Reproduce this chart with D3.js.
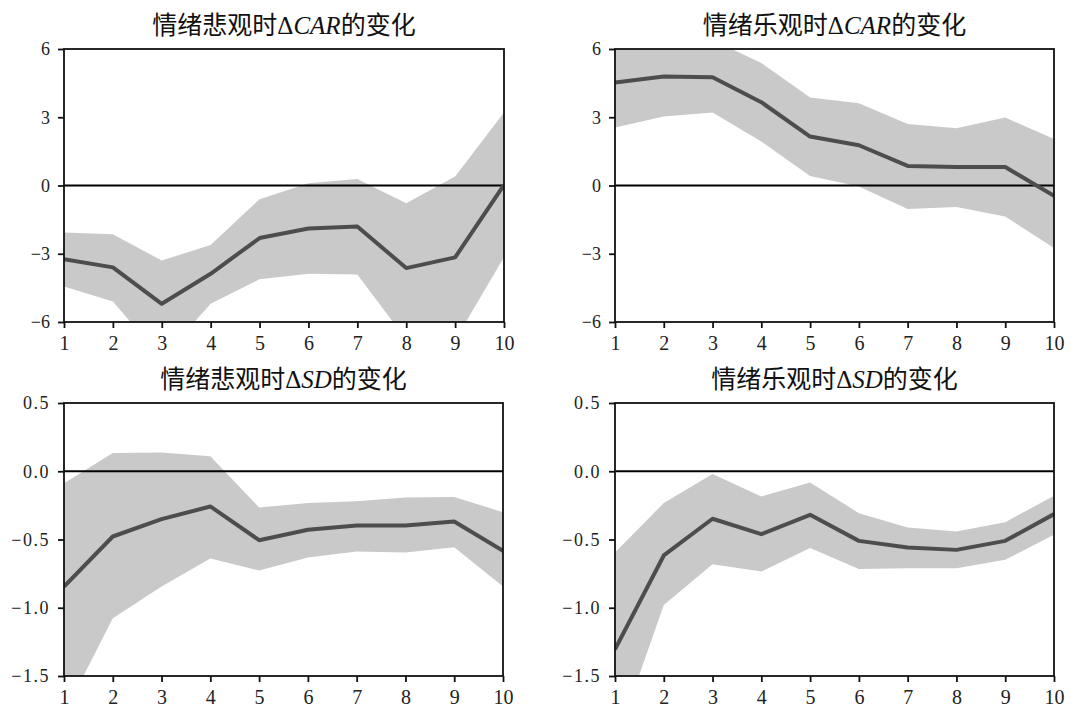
<!DOCTYPE html>
<html>
<head>
<meta charset="utf-8">
<script src="https://cdn.jsdelivr.net/npm/d3@7"></script>
<style>
  body { margin: 0; background: #fff; }
  .title { font-family: "Noto Sans CJK SC", sans-serif; font-size: 25px; fill: #111; }
  .title .math { font-family: "Liberation Serif", serif; }
</style>
</head>
<body>
<svg width="1090" height="709"></svg>
<script>
var svg = d3.select("svg");

// horizon 1..10
var periods = [1, 2, 3, 4, 5, 6, 7, 8, 9, 10];

// 情绪悲观时 ΔCAR
var carPessMid = [-3.24, -3.60, -5.20, -3.88, -2.31, -1.89, -1.80, -3.63, -3.16, 0.03];
var carPessUp  = [-2.07, -2.14, -3.30, -2.61, -0.60, 0.10, 0.29, -0.78, 0.40, 3.21];
var carPessLo  = [-4.44, -5.10, -7.60, -5.20, -4.12, -3.88, -3.91, -6.77, -6.80, -3.15];

// 情绪乐观时 ΔCAR
var carOptMid = [4.53, 4.79, 4.76, 3.66, 2.15, 1.77, 0.86, 0.81, 0.81, -0.45];
var carOptUp  = [6.50, 6.70, 6.40, 5.38, 3.87, 3.62, 2.70, 2.52, 2.99, 2.04];
var carOptLo  = [2.55, 3.03, 3.21, 1.93, 0.42, -0.04, -1.03, -0.95, -1.36, -2.75];

// 情绪悲观时 ΔSD
var sdPessMid = [-0.845, -0.478, -0.351, -0.258, -0.505, -0.429, -0.397, -0.397, -0.368, -0.583];
var sdPessUp  = [-0.087, 0.133, 0.138, 0.109, -0.265, -0.233, -0.219, -0.192, -0.189, -0.300];
var sdPessLo  = [-1.78, -1.077, -0.845, -0.639, -0.727, -0.632, -0.588, -0.595, -0.556, -0.845];

// 情绪乐观时 ΔSD
var sdOptMid = [-1.304, -0.617, -0.348, -0.461, -0.319, -0.510, -0.559, -0.576, -0.510, -0.314];
var sdOptUp  = [-0.595, -0.233, -0.021, -0.185, -0.082, -0.307, -0.412, -0.441, -0.373, -0.180];
var sdOptLo  = [-2.00, -0.979, -0.681, -0.735, -0.563, -0.717, -0.710, -0.710, -0.649, -0.465];

var carTicks = [-6, -3, 0, 3, 6];
var sdTicks = [-1.5, -1.0, -0.5, 0.0, 0.5];

var panels = [
    { pre: "情绪悲观时", sym: "CAR", x: 64, y: 49, w: 440, domain: [-6, 6], ticks: carTicks, fmt: d3.format("d"),
      mid: carPessMid, up: carPessUp, lo: carPessLo },
    { pre: "情绪乐观时", sym: "CAR", x: 615, y: 49, w: 439, domain: [-6, 6], ticks: carTicks, fmt: d3.format("d"),
      mid: carOptMid, up: carOptUp, lo: carOptLo },
    { pre: "情绪悲观时", sym: "SD", x: 64, y: 403, w: 439, domain: [-1.5, 0.5], ticks: sdTicks, fmt: d3.format(".1f"),
      mid: sdPessMid, up: sdPessUp, lo: sdPessLo },
    { pre: "情绪乐观时", sym: "SD", x: 615, y: 403, w: 439, domain: [-1.5, 0.5], ticks: sdTicks, fmt: d3.format(".1f"),
      mid: sdOptMid, up: sdOptUp, lo: sdOptLo }
];

var plotH = 273;

panels.forEach(function (p, i) {
    var g = svg.append("g").attr("transform", "translate(" + p.x + "," + p.y + ")");

    var xScale = d3.scaleLinear().domain([1, 10]).range([0, p.w]);
    var yScale = d3.scaleLinear().domain(p.domain).range([plotH, 0]);

    g.append("clipPath").attr("id", "clip" + i)
        .append("rect").attr("width", p.w).attr("height", plotH);

    var rows = periods.map(function (t, k) {
        return { t: t, mid: p.mid[k], up: p.up[k], lo: p.lo[k] };
    });

    var plot = g.append("g").attr("clip-path", "url(#clip" + i + ")");

    plot.append("path")
        .datum(rows)
        .attr("fill", "#c9c9c9")
        .attr("d", d3.area()
            .x(d => xScale(d.t))
            .y0(d => yScale(d.lo))
            .y1(d => yScale(d.up)));

    plot.append("line")
        .attr("x1", 0).attr("x2", p.w)
        .attr("y1", yScale(0)).attr("y2", yScale(0))
        .attr("stroke", "#000")
        .attr("stroke-width", 2.2);

    plot.append("path")
        .datum(rows)
        .attr("fill", "none")
        .attr("stroke", "#4d4d4d")
        .attr("stroke-width", 4)
        .attr("stroke-linejoin", "round")
        .attr("d", d3.line().x(d => xScale(d.t)).y(d => yScale(d.mid)));

    // frame
    g.append("rect")
        .attr("width", p.w).attr("height", plotH)
        .attr("fill", "none")
        .attr("stroke", "#111")
        .attr("stroke-width", 1.8);

    var xAxis = d3.axisBottom(xScale).tickValues(periods).tickSize(6).tickPadding(8).tickFormat(d3.format("d"));
    var yAxis = d3.axisLeft(yScale).tickValues(p.ticks).tickSize(6).tickPadding(8).tickFormat(p.fmt);

    var xg = g.append("g").attr("transform", "translate(0," + plotH + ")").call(xAxis);
    var yg = g.append("g").call(yAxis);

    [xg, yg].forEach(function (ag) {
        ag.attr("font-family", null).attr("font-size", null);
        ag.select(".domain").remove();
        ag.selectAll(".tick line").attr("stroke", "#111").attr("stroke-width", 1.8);
        ag.selectAll(".tick text")
            .attr("fill", "#222")
            .style("font-family", "'Liberation Serif', serif");
    });
    xg.selectAll(".tick text").style("font-size", "20px");
    yg.selectAll(".tick text").style("font-size", "18px")
        .style("letter-spacing", p.sym === "SD" ? "1.5px" : "0px");

    var title = g.append("text")
        .attr("class", "title")
        .attr("x", p.w / 2)
        .attr("y", -15)
        .attr("text-anchor", "middle");
    title.append("tspan").text(p.pre);
    title.append("tspan").attr("class", "math").text("Δ");
    title.append("tspan").attr("class", "math").style("font-style", "italic").text(p.sym);
    title.append("tspan").text("的变化");
});
</script>
</body>
</html>
